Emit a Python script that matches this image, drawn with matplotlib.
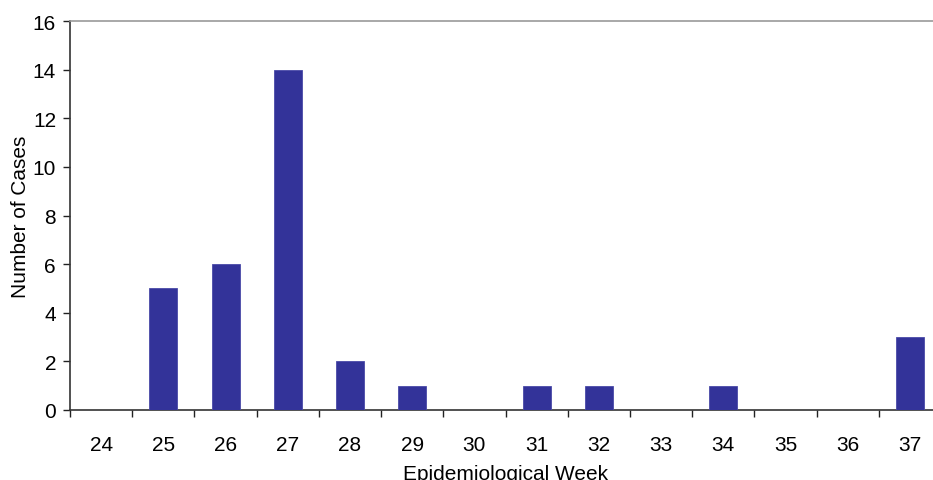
import numpy as np
import matplotlib.pyplot as plt

plt.rcParams['font.family'] = ['Liberation Sans', 'DejaVu Sans']

weeks = ["24", "25", "26", "27", "28", "29", "30", "31", "32", "33", "34", "35", "36", "37"]
cases = [0, 5, 6, 14, 2, 1, 0, 1, 1, 0, 1, 0, 0, 3]

fig = plt.figure(figsize=(9.33, 4.81), dpi=100)
# right edge of the plot area runs past the image edge, as in the source
ax = fig.add_axes([70 / 933, 1 - 411 / 481, 871 / 933, 389 / 481])

x = np.arange(len(weeks))
ax.bar(x, cases, width=0.45, color="#333399", edgecolor="#4a4aa8", linewidth=0.6, zorder=3)

ax.set_xlim(-0.5, len(weeks) - 0.5)
ax.set_ylim(0, 16)
ax.set_yticks(np.arange(0, 17, 2))
ax.set_xticks(x)
ax.set_xticklabels(weeks)
ax.set_xticks(np.arange(-0.5, len(weeks) - 0.4, 1), minor=True)
ax.tick_params(axis="x", which="major", length=0, pad=18, labelsize=15)
ax.tick_params(axis="x", which="minor", length=5, width=1, color="#222222", direction="out")
ax.tick_params(axis="y", length=5, width=1, color="#222222", labelsize=15, pad=5)

for s in ["left", "bottom"]:
    ax.spines[s].set_color("#333333")
    ax.spines[s].set_linewidth(1.2)
ax.spines["top"].set_color("#999999")
ax.spines["top"].set_linewidth(1.2)
ax.spines["right"].set_visible(False)

ax.set_ylabel("Number of Cases", fontsize=15, labelpad=2)
ax.set_xlabel("Epidemiological Week", fontsize=15, labelpad=7)

fig.savefig("out.png", dpi=100)
